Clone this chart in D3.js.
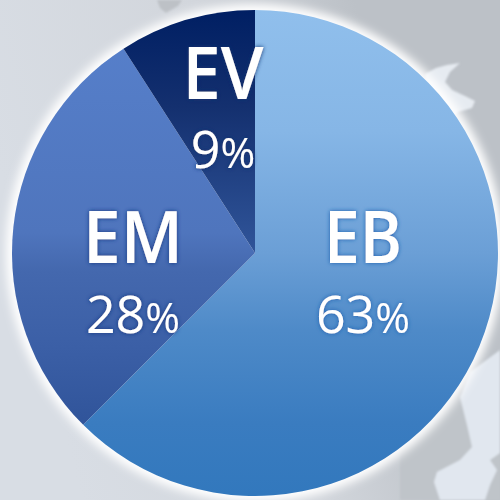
<!DOCTYPE html>
<html>
<head>
<meta charset="utf-8">
<script src="https://cdn.jsdelivr.net/npm/d3@7"></script>
<style>
html, body { margin: 0; padding: 0; background: #d3d8df; }
svg { display: block; }
text { font-family: "Open Sans", "Noto Sans", sans-serif; fill: #fff; text-anchor: middle; }
</style>
</head>
<body>
<div id="chart"></div>
<script>
const labels = ["EB", "EM", "EV"];
const values = [62.5, 28.4, 9.1];
const bandTop = { EB: 10, EM: 40, EV: 10 };
const bandBottom = { EB: 496, EM: 425, EV: 253 };
const gradStops = {
    EB: [[0, "#90bfec"], [0.25, "#86b6e6"], [0.5, "#6b9fd6"], [0.66, "#4e8ac8"], [0.85, "#3a7cc0"], [1, "#3278bd"]],
    EM: [[0, "#567fca"], [0.5, "#4f75bd"], [0.6, "#4468ae"], [0.8, "#3b5fa6"], [1, "#30549a"]],
    EV: [[0, "#001f63"], [0.4, "#14306f"], [1, "#30559a"]]
};
const nameWidth = { EB: 78, EM: 100, EV: 81 };
const labelX = { EB: 363, EM: 133, EV: 223 };
const nameY = { EB: 263, EM: 263, EV: 99 };
const pctY = { EB: 333, EM: 333, EV: 168 };
const glow = { EB: "#1f5fae", EM: "#16357f", EV: "#12306f" };

function init() {
    const width = 500, height = 500;
    const cx = 255, cy = 253, radius = 243;

    const svg = d3.select("#chart").append("svg")
        .attr("width", width)
        .attr("height", height);

    const defs = svg.append("defs");

    // background tint, lighter on the left, grey top right
    const bg = defs.append("linearGradient").attr("id", "bg")
        .attr("x1", 0).attr("x2", 1).attr("y1", 0.35).attr("y2", 0.1);
    bg.append("stop").attr("offset", "0%").attr("stop-color", "#d8dde4");
    bg.append("stop").attr("offset", "45%").attr("stop-color", "#d2d6dc");
    bg.append("stop").attr("offset", "75%").attr("stop-color", "#bcc1c7");
    bg.append("stop").attr("offset", "100%").attr("stop-color", "#bcc1c7");

    labels.forEach(k => {
        // coordinates are in the plot group's space, so relative to cy
        const g = defs.append("linearGradient").attr("id", "grad" + k)
            .attr("gradientUnits", "userSpaceOnUse")
            .attr("x1", 0).attr("x2", 0)
            .attr("y1", bandTop[k] - cy).attr("y2", bandBottom[k] - cy);
        gradStops[k].forEach(s => {
            g.append("stop").attr("offset", s[0]).attr("stop-color", s[1]);
        });
    });

    const halo = defs.append("filter").attr("id", "halo")
        .attr("x", "-10%").attr("y", "-10%").attr("width", "120%").attr("height", "120%");
    halo.append("feGaussianBlur").attr("stdDeviation", 5);

    const soft = defs.append("filter").attr("id", "soft");
    soft.append("feGaussianBlur").attr("stdDeviation", 1);

    labels.forEach(k => {
        const f = defs.append("filter").attr("id", "glow" + k)
            .attr("x", "-20%").attr("y", "-20%").attr("width", "140%").attr("height", "140%");
        f.append("feDropShadow").attr("dx", 0).attr("dy", 0)
            .attr("stdDeviation", 2.2).attr("flood-color", glow[k]).attr("flood-opacity", 1);
    });

    svg.append("rect").attr("width", width).attr("height", height).attr("fill", "url(#bg)");

    // faint map shapes behind the pie
    const map = svg.append("g").attr("filter", "url(#soft)");
    map.append("path").attr("fill", "#bfc4c9")
        .attr("d", "M400,500 L400,440 L462,395 L500,395 L500,500 Z");
    map.append("path").attr("fill", "#e1e7ef")
        .attr("d", "M500,350 L470,372 L460,397 L467,425 L472,447 L460,460 L437,472 L434,482 L440,500 L485,500 L490,485 L497,470 L490,460 L500,453 Z");
    map.append("path").attr("fill", "#e6ebf1")
        .attr("d", "M460,63 L447,65 L436,68 L425,74 L430,95 L445,125 L458,112 L472,108 L475,101 L465,96 L452,90 L445,82 L450,72 Z");
    map.append("path").attr("fill", "#bdc1c6")
        .attr("d", "M157,0 L182,0 L178,6 L166,13 L160,8 Z");

    // white halo round the pie
    svg.append("circle")
        .attr("cx", cx).attr("cy", cy).attr("r", radius + 6)
        .attr("fill", "#fff")
        .attr("filter", "url(#halo)");

    const valueOf = new Map(labels.map((l, i) => [l, values[i]]));
    const pie = d3.pie().sort(null).value(d => valueOf.get(d));
    const arc = d3.arc().innerRadius(0).outerRadius(radius);

    const plot = svg.append("g").attr("transform", `translate(${cx},${cy})`);
    plot.selectAll("path")
        .data(pie(labels))
        .join("path")
        .attr("d", arc)
        .attr("fill", d => `url(#grad${d.data})`);

    labels.forEach(k => {
        const g = svg.append("g").attr("filter", `url(#glow${k})`);
        g.append("text")
            .attr("x", labelX[k]).attr("y", nameY[k])
            .attr("font-size", 73).attr("font-weight", 600)
            .attr("textLength", nameWidth[k]).attr("lengthAdjust", "spacingAndGlyphs")
            .text(k);
        const pct = g.append("text")
            .attr("x", labelX[k]).attr("y", pctY[k])
            .attr("font-size", 52).attr("font-weight", 500);
        pct.append("tspan").text(Math.round(valueOf.get(k)));
        pct.append("tspan").attr("font-size", 42).attr("font-weight", 400).text("%");
    });
}

window.onload = init;
</script>
</body>
</html>
